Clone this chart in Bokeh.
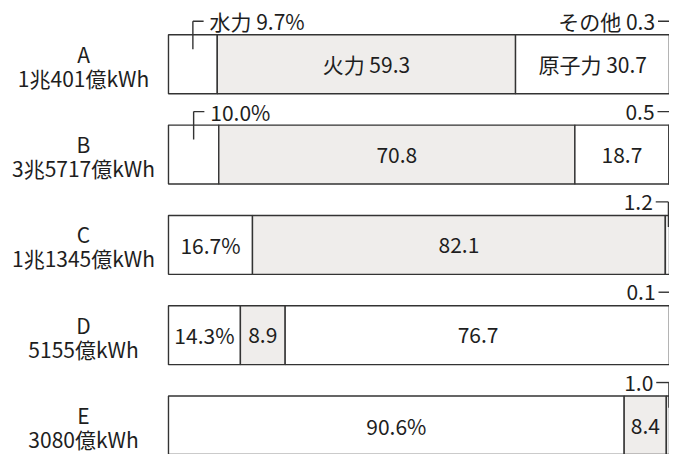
from bokeh.plotting import figure
from bokeh.models import Range1d, ColumnDataSource
from bokeh.core.properties import value
from bokeh.embed import file_html
from bokeh.resources import INLINE

# ---- data ----
categories = ["A", "B", "C", "D", "E"]
totals = ["1兆401億kWh", "3兆5717億kWh", "1兆1345億kWh", "5155億kWh", "3080億kWh"]
sources = ["水力", "火力", "原子力", "その他"]
hydro = [9.7, 10.0, 16.7, 14.3, 90.6]
thermal = [59.3, 70.8, 82.1, 8.9, 8.4]
nuclear = [30.7, 18.7, 0.0, 76.7, 0.0]
other = [0.3, 0.5, 1.2, 0.1, 1.0]
hydro_outside = ["A", "B"]          # rows whose hydro label sits above with a leader

# ---- layout / style ----
W, H = 669, 454
SX = W / 685.0
SY = H / 470.0
BAR_LEFT = 172.0 * SX      # px from figure left where 0% sits
PX_PCT = 5.15 * SX         # px per percent
ROW0 = 66.0 * SY           # px from figure top to centre of first bar
STEP = 93.5 * SY           # px between bar centres
BAR_H = 61.0 * SY / STEP   # bar height in data units
LABEL_CX = 85.0 * SX       # px centre of category labels
FONT = value("Noto Sans CJK JP")
FS = "21px"
TXT = "#1e1e1e"
LINE = "#333333"
FILLS = ["#ffffff", "#efedeb", "#ffffff", "#ffffff"]

p = figure(width=W, height=H, output_backend="svg", toolbar_location=None,
           x_range=Range1d(-BAR_LEFT / PX_PCT, (W - BAR_LEFT) / PX_PCT),
           y_range=Range1d((H - ROW0) / STEP, -ROW0 / STEP),
           min_border=0)
p.axis.visible = False
p.grid.visible = False
p.outline_line_color = None
p.background_fill_color = "white"
p.border_fill_color = "white"

series = [hydro, thermal, nuclear, other]
ys = list(range(len(categories)))

# stacked bars
lefts = [0.0] * len(categories)
seg_centres = []
for k, vals in enumerate(series):
    rights = [l + v for l, v in zip(lefts, vals)]
    src = ColumnDataSource(dict(y=ys, left=lefts, right=rights))
    p.hbar(y="y", left="left", right="right", height=BAR_H, source=src,
           fill_color=FILLS[k], line_color=LINE, line_width=1.4)
    seg_centres.append([(l + r) / 2 for l, r in zip(lefts, rights)])
    lefts = rights

def fmt(k, i):
    v = series[k][i]
    s = f"{v:.1f}"
    if k == 0:
        s += "%"
    if i == 0:
        s = sources[k] + " " + s
    return s

# inside labels
ix, iy, itxt = [], [], []
for i, c in enumerate(categories):
    for k in range(3):
        if series[k][i] <= 0:
            continue
        if k == 0 and c in hydro_outside:
            continue
        ix.append(seg_centres[k][i]); iy.append(i); itxt.append(fmt(k, i))
p.text(x=ix, y=iy, text=itxt, text_align="center", text_baseline="middle",
       text_font=FONT, text_font_size=FS, text_color=TXT)

dx = SX / PX_PCT
dy = SY / STEP

# outside left labels (hydro) with leader
lx, ly, ltxt = [], [], []
sx0, sy0, sx1, sy1 = [], [], [], []
for i, c in enumerate(categories):
    if c not in hydro_outside:
        continue
    xc = seg_centres[0][i]
    top = i - BAR_H / 2
    yl = top - 14 * dy
    lx.append(xc); ly.append(yl); ltxt.append(fmt(0, i))
    sx0 += [xc, xc]; sy0 += [yl, yl]
    sx1 += [xc + 11 * dx, xc]; sy1 += [yl, top + 15 * dy]
p.text(x=lx, y=ly, text=ltxt, x_offset=17 * SX, text_align="left", text_baseline="middle",
       text_font=FONT, text_font_size=FS, text_color=TXT)

# outside right labels (other) with leader
rx, ry, rtxt = [], [], []
for i, c in enumerate(categories):
    xc = seg_centres[3][i]
    top = i - BAR_H / 2
    yl = top - 14 * dy
    rx.append(xc); ry.append(yl); rtxt.append(fmt(3, i))
    sx0 += [xc - 13 * dx, xc]; sy0 += [yl, yl]
    sx1 += [xc, xc]; sy1 += [yl, top + 12 * dy]
p.text(x=rx, y=ry, text=rtxt, x_offset=-16 * SX, text_align="right", text_baseline="middle",
       text_font=FONT, text_font_size=FS, text_color=TXT)

p.segment(x0=sx0, y0=sy0, x1=sx1, y1=sy1, line_color=LINE, line_width=1.4)

# category labels
cx = [(LABEL_CX - BAR_LEFT) / PX_PCT] * len(categories)
p.text(x=cx, y=ys, text=categories, y_offset=-11 * SY, text_align="center", text_baseline="middle",
       text_font=FONT, text_font_size=FS, text_color=TXT)
p.text(x=cx, y=ys, text=totals, y_offset=14 * SY, text_align="center", text_baseline="middle",
       text_font=FONT, text_font_size=FS, text_color=TXT)

open("out.html", "w").write(file_html(p, INLINE))
